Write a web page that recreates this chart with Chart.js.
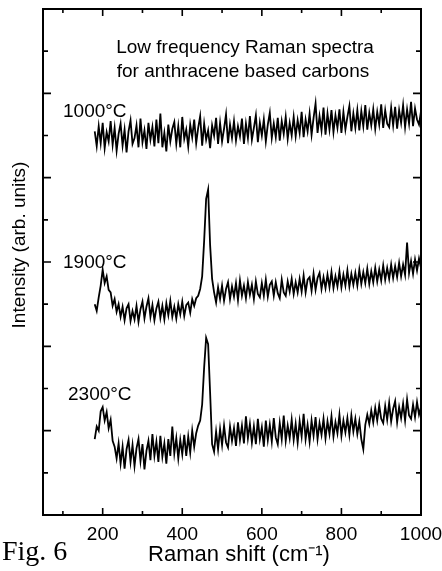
<!DOCTYPE html>
<html>
<head>
<meta charset="utf-8">
<script src="https://cdn.jsdelivr.net/npm/chart.js@4.4.1/dist/chart.umd.min.js"></script>
<style>
  html, body { margin: 0; padding: 0; background: #fff; }
  #wrap { position: relative; width: 442px; height: 571px; }
</style>
</head>
<body>
<div id="wrap"><canvas id="c"></canvas></div>
<script>
// ---- data ----
const ramanShift = [
  180,185,190,195,200,205,210,215,220,225,
  230,235,240,245,250,255,260,265,270,275,
  280,285,290,295,300,305,310,315,320,325,
  330,335,340,345,350,355,360,365,370,375,
  380,385,390,395,400,405,410,415,420,425,
  430,435,440,445,450,455,460,465,470,475,
  480,485,490,495,500,505,510,515,520,525,
  530,535,540,545,550,555,560,565,570,575,
  580,585,590,595,600,605,610,615,620,625,
  630,635,640,645,650,655,660,665,670,675,
  680,685,690,695,700,705,710,715,720,725,
  730,735,740,745,750,755,760,765,770,775,
  780,785,790,795,800,805,810,815,820,825,
  830,835,840,845,850,855,860,865,870,875,
  880,885,890,895,900,905,910,915,920,925,
  930,935,940,945,950,955,960,965,970,975,
  980,985,990,995,1000
];
const intensity1000 = [
  9.10,8.75,9.22,8.82,9.30,8.70,9.08,8.86,9.34,8.78,
  9.18,8.64,9.04,9.28,8.76,9.14,8.60,9.10,9.36,8.80,
  8.94,9.24,8.72,9.40,8.84,9.12,8.68,9.30,8.90,9.20,
  8.74,9.38,8.82,9.52,8.72,9.06,8.62,9.26,8.86,9.16,
  9.32,8.80,9.22,8.72,9.44,8.92,9.14,8.74,9.26,8.96,
  9.38,8.82,9.18,9.46,8.76,9.28,8.90,9.12,8.70,9.24,
  9.00,9.42,8.80,9.30,8.86,9.16,9.50,8.82,9.26,8.94,
  9.34,8.88,9.22,8.98,9.40,8.80,9.28,8.94,9.46,8.90,
  9.18,9.48,8.84,9.30,9.00,9.38,8.86,9.26,9.54,8.94,
  9.28,8.96,9.42,8.88,9.34,9.04,9.44,8.92,9.30,9.00,
  9.44,8.98,9.36,9.06,9.56,8.96,9.38,9.10,9.52,9.02,
  9.42,9.76,9.06,9.46,9.12,9.66,9.02,9.52,9.14,9.60,
  9.08,9.48,9.18,9.62,9.06,9.56,9.14,9.44,9.70,9.10,
  9.52,9.18,9.60,9.12,9.58,9.22,9.72,9.14,9.54,9.24,
  9.62,9.16,9.56,9.26,9.74,9.18,9.60,9.28,9.20,9.66,
  9.24,9.68,9.16,9.60,9.30,9.72,9.20,9.62,9.28,9.80,
  9.22,9.64,9.38,9.26,9.58
];
const intensity1900 = [
  5.00,4.84,5.16,5.44,5.82,5.50,5.66,5.34,5.28,4.96,
  5.12,4.82,5.00,4.70,4.94,4.62,4.90,5.00,4.60,4.84,
  4.64,4.96,4.58,4.88,5.06,4.66,4.94,5.14,4.70,4.98,
  4.62,4.90,5.06,4.68,4.96,4.64,5.02,4.74,5.08,4.70,
  4.94,4.66,5.00,4.76,5.06,4.72,4.98,5.04,4.80,5.12,
  4.96,5.14,5.20,5.36,5.66,6.50,7.50,7.72,6.40,5.60,
  5.28,5.04,5.40,5.12,5.44,5.08,5.36,5.52,5.12,5.42,
  5.18,5.50,5.10,5.56,5.20,5.44,5.14,5.52,5.22,5.46,
  5.12,5.54,5.24,5.16,5.50,5.20,5.58,5.18,5.46,5.54,
  5.20,5.52,5.26,5.14,5.58,5.28,5.20,5.54,5.30,5.60,
  5.24,5.52,5.28,5.60,5.30,5.68,5.28,5.58,5.64,5.32,
  5.72,5.34,5.62,5.74,5.36,5.64,5.38,5.70,5.40,5.76,
  5.38,5.66,5.42,5.78,5.40,5.70,5.44,5.80,5.42,5.72,
  5.46,5.74,5.44,5.82,5.48,5.76,5.50,5.84,5.48,5.78,
  5.52,5.86,5.54,5.82,5.56,5.92,5.58,5.86,5.60,5.94,
  5.62,5.90,5.64,5.98,5.66,5.94,5.70,6.46,5.74,6.02,
  5.72,6.06,5.80,6.08,5.86
];
const intensity2300 = [
  1.80,2.10,2.00,2.46,2.56,2.24,2.44,2.06,2.26,1.76,
  1.62,1.34,1.70,1.22,1.62,1.10,1.56,1.78,1.26,1.66,
  1.16,1.58,1.80,1.28,1.68,1.08,1.52,1.76,1.30,1.92,
  1.40,1.74,1.26,1.88,1.38,1.70,1.22,1.80,1.40,2.10,
  1.46,1.82,1.34,1.78,1.44,1.90,1.40,1.86,1.48,2.00,
  1.62,1.94,2.12,2.24,2.62,3.50,4.20,4.05,2.90,1.68,
  1.50,1.98,1.56,2.04,1.66,2.12,1.72,1.60,2.10,1.76,
  2.06,1.64,2.20,1.78,2.12,1.70,2.34,1.82,2.16,1.72,
  2.10,1.68,2.28,1.80,2.08,1.62,2.24,1.78,2.14,1.74,
  2.30,1.84,1.68,2.18,1.80,2.36,1.76,2.12,1.82,2.26,
  1.78,2.16,1.72,2.22,1.86,2.40,1.80,2.14,1.74,2.24,
  1.88,2.32,1.80,2.18,1.90,2.28,1.82,2.22,1.92,2.34,
  1.86,2.20,1.94,2.38,1.88,2.24,1.96,2.30,1.90,2.36,
  1.98,2.28,1.92,2.22,1.80,1.56,2.14,2.38,2.16,2.48,
  2.20,2.54,2.24,2.60,2.28,2.18,2.58,2.26,2.66,2.22,
  2.52,2.70,2.20,2.56,2.30,2.64,2.24,2.74,2.36,2.28,
  2.62,2.32,2.68,2.38,2.56
];
const seriesLabels = ['1000°C', '1900°C', '2300°C'];
const xTickLabels = [200, 400, 600, 800, 1000];
const xMinorTicks = [100, 300, 500, 700, 900];
const yMajorTicks = [0, 2, 4, 6, 8, 10];
const yMinorTicks = [1, 3, 5, 7, 9, 11];

const FONT = "'Liberation Sans', Arial, sans-serif";
const toPoints = ys => ramanShift.map((x, i) => ({ x: x, y: ys[i] }));

// inward tick marks drawn through the chart's own scales
const tickPlugin = {
  id: 'inwardTicks',
  afterDraw(chart) {
    const { ctx, chartArea: a, scales } = chart;
    const xs = scales.x, ys = scales.y;
    ctx.save();
    ctx.strokeStyle = '#000';
    ctx.lineWidth = 1.6;
    const vx = (v, len) => {
      const p = xs.getPixelForValue(v);
      ctx.beginPath();
      ctx.moveTo(p, a.bottom); ctx.lineTo(p, a.bottom - len);
      ctx.moveTo(p, a.top); ctx.lineTo(p, a.top + len);
      ctx.stroke();
    };
    const hy = (v, len) => {
      const p = ys.getPixelForValue(v);
      ctx.beginPath();
      ctx.moveTo(a.left, p); ctx.lineTo(a.left + len, p);
      ctx.moveTo(a.right, p); ctx.lineTo(a.right - len, p);
      ctx.stroke();
    };
    xTickLabels.filter(v => v < 1000).forEach(v => vx(v, 7));
    xMinorTicks.forEach(v => vx(v, 4));
    yMajorTicks.forEach(v => hy(v, 8));
    yMinorTicks.forEach(v => hy(v, 5));
    ctx.restore();
  }
};

// text annotations
const textPlugin = {
  id: 'texts',
  afterDraw(chart) {
    const { ctx } = chart;
    ctx.save();
    ctx.fillStyle = '#000';
    ctx.textBaseline = 'alphabetic';
    ctx.font = '19px ' + FONT;
    ctx.textAlign = 'center';
    ctx.fillText('Low frequency Raman spectra', 245, 53);
    ctx.fillText('for anthracene based carbons', 243, 77);
    ctx.textAlign = 'left';
    ctx.fillText(seriesLabels[0], 63, 117);
    ctx.fillText(seriesLabels[1], 63, 268);
    ctx.fillText(seriesLabels[2], 68, 400);
    // axis titles
    ctx.textAlign = 'center';
    ctx.font = '22px ' + FONT;
    ctx.fillText('Raman shift (cm\u207B\u00B9)', 239, 561);
    ctx.font = '19px ' + FONT;
    ctx.save();
    ctx.translate(25, 245);
    ctx.rotate(-Math.PI / 2);
    ctx.fillText('Intensity (arb. units)', 0, 0);
    ctx.restore();
    // figure caption
    ctx.textAlign = 'left';
    ctx.font = '28px "Liberation Serif", "Times New Roman", serif';
    ctx.fillText('Fig. 6', 2, 560);
    ctx.restore();
  }
};

new Chart(document.getElementById('c'), {
  type: 'line',
  data: {
    datasets: [
      { label: seriesLabels[0], data: toPoints(intensity1000) },
      { label: seriesLabels[1], data: toPoints(intensity1900) },
      { label: seriesLabels[2], data: toPoints(intensity2300) }
    ].map(d => Object.assign(d, {
      borderColor: '#000', borderWidth: 1.8, pointRadius: 0,
      tension: 0, fill: false
    }))
  },
  options: {
    responsive: true,
    maintainAspectRatio: false,
    animation: false,
    devicePixelRatio: 1,
    layout: { padding: 0 },
    plugins: { legend: { display: false }, tooltip: { enabled: false } },
    scales: {
      x: {
        type: 'linear', position: 'bottom', min: 50, max: 1000,
        afterBuildTicks: s => { s.ticks = xTickLabels.map(v => ({ value: v })); },
        afterFit: s => { s.height = 56; s.paddingLeft = 0; s.paddingRight = 0; },
        grid: { display: false, drawTicks: false },
        border: { display: true, color: '#000', width: 2 },
        ticks: { color: '#000', padding: 8, maxRotation: 0,
                 callback: v => String(v),
                 font: { family: FONT, size: 19 } }
      },
      x2: {
        type: 'linear', position: 'top', min: 50, max: 1000,
        afterFit: s => { s.height = 9; s.paddingLeft = 0; s.paddingRight = 0; },
        grid: { display: false, drawTicks: false },
        border: { display: true, color: '#000', width: 2 },
        ticks: { display: false }
      },
      y: {
        type: 'linear', position: 'left', min: 0, max: 12,
        afterFit: s => { s.width = 43; },
        grid: { display: false, drawTicks: false },
        border: { display: true, color: '#000', width: 2 },
        ticks: { display: false }
      },
      y2: {
        type: 'linear', position: 'right', min: 0, max: 12,
        afterFit: s => { s.width = 21; },
        grid: { display: false, drawTicks: false },
        border: { display: true, color: '#000', width: 2 },
        ticks: { display: false }
      }
    }
  },
  plugins: [tickPlugin, textPlugin]
});
</script>
</body>
</html>
